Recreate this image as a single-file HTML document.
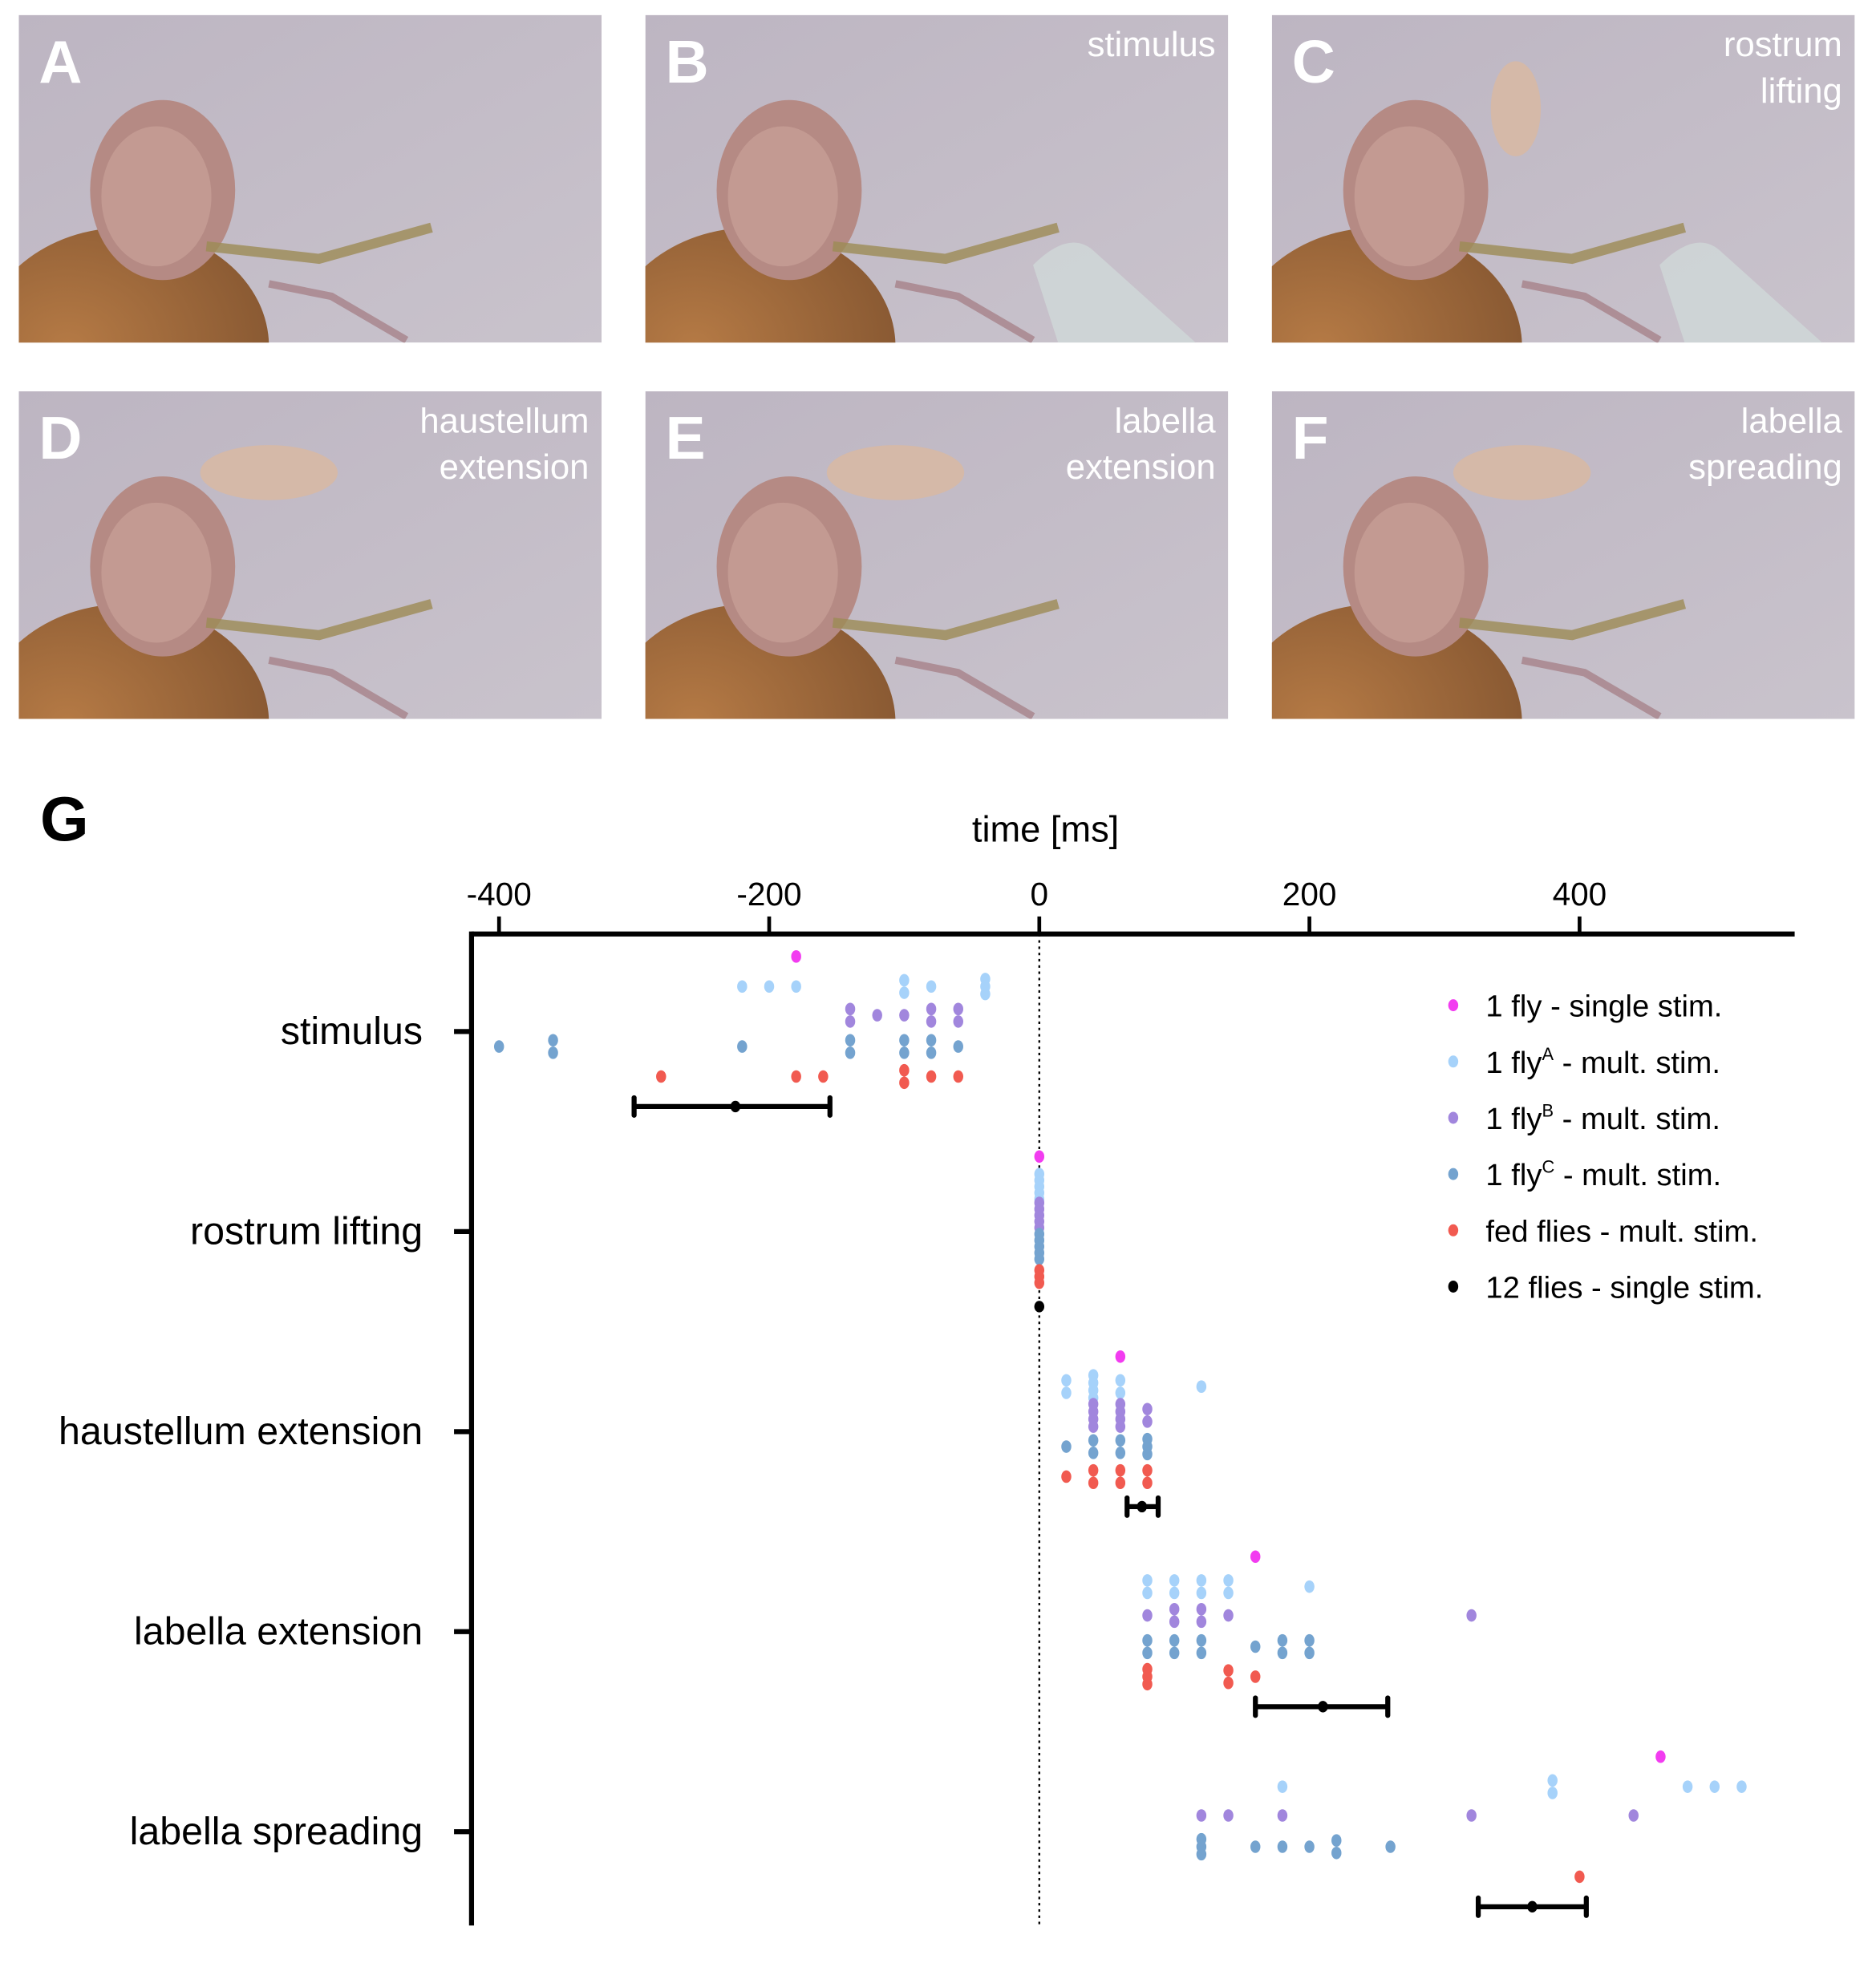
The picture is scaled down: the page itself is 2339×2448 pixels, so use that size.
<!DOCTYPE html>
<html><head><meta charset="utf-8"><style>
html,body{margin:0;padding:0;background:#fff}
svg{display:block}
text{font-family:"Liberation Sans",sans-serif}
</style></head><body>
<svg id="fig" width="2339" height="2448" viewBox="0 0 1500 1570" xmlns="http://www.w3.org/2000/svg">
<defs>
<linearGradient id="bg" x1="0" y1="0" x2="1" y2="1"><stop offset="0" stop-color="#bdb5c2"/><stop offset="1" stop-color="#c9c3cc"/></linearGradient>
<radialGradient id="body" cx="0.3" cy="0.5" r="0.7"><stop offset="0" stop-color="#b57a45"/><stop offset="1" stop-color="#8a5a33"/></radialGradient>
<clipPath id="c0"><rect x="0" y="0" width="466" height="262"/></clipPath>
</defs>
<g id="photos"></g>
<g id="chart"></g>
</svg>
<script>
// ---- chart data ----
const categories = ["stimulus","rostrum lifting","haustellum extension","labella extension","labella spreading"];
const xTicks = [-400,-200,0,200,400];
const seriesNames = ["1 fly - single stim.","1 flyA - mult. stim.","1 flyB - mult. stim.","1  flyC - mult. stim.","fed flies - mult. stim.","12 flies - single stim."];
const seriesColors = ["#f23cf0","#a6d2fa","#a186dd","#74a3cf","#f15a50","#000000"];
const magenta = [[-180],[0],[60],[160],[460]];
const flyA = [[-220,-200,-180,-100,-100,-80,-40,-40,-40],[0,0,0,0,0],[20,20,40,40,40,40,60,60,120],[80,80,100,100,120,120,140,140,200],[180,380,380,480,500,520]];
const flyB = [[-140,-140,-120,-100,-80,-80,-60,-60],[0,0,0,0,0],[40,40,40,40,60,60,60,60,80,80],[80,100,100,120,120,140,320],[120,140,180,320,440]];
const flyC = [[-400,-360,-360,-220,-140,-140,-100,-100,-80,-80,-60],[0,0,0,0,0],[20,40,40,60,60,80,80,80],[80,80,100,100,120,120,160,180,180,200,200],[120,120,120,160,180,200,220,220,260]];
const fed = [[-280,-180,-160,-100,-100,-80,-60],[0,0,0],[20,40,40,60,60,80,80],[80,80,80,140,140,160],[400]];
const meanVals = [-225,0,76,210,365];
const errLow = [-300,0,65,160,325];
const errHigh = [-155,0,88,258,405];

const NS="http://www.w3.org/2000/svg";
function mk(tag,attrs,parent){const e=document.createElementNS(NS,tag);for(const k in attrs)e.setAttribute(k,attrs[k]);parent.appendChild(e);return e;}

// ---- photos ----
const photos=document.getElementById('photos');
const panels=[["A","",""],["B","stimulus",""],["C","rostrum","lifting"],["D","haustellum","extension"],["E","labella","extension"],["F","labella","spreading"]];
const px=[15,516,1017], py=[12,313];
panels.forEach((p,i)=>{
  const g=mk('g',{transform:`translate(${px[i%3]},${py[Math.floor(i/3)]})`},photos);
  
  
  const inner=mk('g',{'clip-path':'url(#c0)'},g);
  mk('rect',{x:0,y:0,width:466,height:262,fill:'url(#bg)'},inner);
  mk('ellipse',{cx:85,cy:265,rx:115,ry:95,fill:'url(#body)'},inner);
  mk('ellipse',{cx:115,cy:140,rx:58,ry:72,fill:'#b58a84'},inner);
  mk('ellipse',{cx:110,cy:145,rx:44,ry:56,fill:'#c39a92'},inner);
  if(i==2) mk('ellipse',{cx:195,cy:75,rx:20,ry:38,fill:'#d8b8a2',opacity:0.85},inner);
  if(i>=3) mk('ellipse',{cx:200,cy:65,rx:55,ry:22,fill:'#d8b8a2',opacity:0.85},inner);
  mk('path',{d:'M150 185 L240 195 L330 170',stroke:'#9c8b55','stroke-width':8,fill:'none',opacity:0.8},inner);
  mk('path',{d:'M200 215 L250 225 L310 260',stroke:'#a68289','stroke-width':6,fill:'none',opacity:0.8},inner);
  if(i==1||i==2) mk('path',{d:'M310 200 Q340 170 360 190 L440 262 L330 262 Z',fill:'#cfd8d8',opacity:0.8},inner);
  const L=mk('text',{x:16,y:54,'font-size':48,'font-weight':'bold',fill:'#fff'},g);L.textContent=p[0];
  
  
  if(p[1]){const t=mk('text',{x:456,y:33,'font-size':28,fill:'#fff','text-anchor':'end'},g);t.textContent=p[1];
    
    }
  if(p[2]){const t=mk('text',{x:456,y:70,'font-size':28,fill:'#fff','text-anchor':'end'},g);t.textContent=p[2];
    
    }
});

// ---- chart ----
const C=document.getElementById('chart');
const X0=831, K=1.08;
const xs=v=>X0+K*v;
const rowY=i=>825+160*i;
const offs=[-60,-36,-13,12,36,60];
const axTop=747, axBottom=1540, axLeft=377, axRight=1435;

let t=mk('text',{x:32,y:672,'font-size':50,'font-weight':'bold'},C);t.textContent='G';


t=mk('text',{x:836,y:673,'font-size':29,'text-anchor':'middle'},C);t.textContent='time [ms]';



let l=mk('line',{x1:axLeft,y1:axTop,x2:axRight,y2:axTop,stroke:'#000','stroke-width':4},C);


l=mk('line',{x1:axLeft,y1:axTop-2,x2:axLeft,y2:axBottom,stroke:'#000','stroke-width':4},C);


l=mk('line',{x1:xs(0),y1:axTop,x2:xs(0),y2:axBottom,stroke:'#000','stroke-width':1.5,'stroke-dasharray':'2 3'},C);



xTicks.forEach(v=>{
  const tk=mk('line',{x1:xs(v),y1:axTop-14,x2:xs(v),y2:axTop,stroke:'#000','stroke-width':3},C);
  
  
  const tl=mk('text',{x:xs(v),y:724,'font-size':26,'text-anchor':'middle'},C);tl.textContent=String(v);
  
  
});
categories.forEach((c,i)=>{
  const tk=mk('line',{x1:363,y1:rowY(i),x2:axLeft,y2:rowY(i),stroke:'#000','stroke-width':4},C);
  
  
  const tl=mk('text',{x:338,y:rowY(i)+10,'font-size':31,'text-anchor':'end'},C);tl.textContent=c;
  
  
});

const allSeries=[magenta,flyA,flyB,flyC,fed];
allSeries.forEach((ser,si)=>{
  ser.forEach((vals,ci)=>{
    const counts={};vals.forEach(v=>counts[v]=(counts[v]||0)+1);
    const seen={};
    const zeroRow = vals.every(v=>v===0);
    vals.forEach(v=>{
      const n=counts[v]; const k=(seen[v]=(seen[v]||0)+1)-1;
      const sp = zeroRow?5:(n==2?10:6);
      const y=rowY(ci)+offs[si]+(k-(n-1)/2)*sp;
      const d=mk('ellipse',{cx:xs(v),cy:y,rx:4,ry:5,fill:seriesColors[si]},C);
      
      
    });
  });
});
meanVals.forEach((m,ci)=>{
  const y=rowY(ci)+offs[5];
  if(errHigh[ci]>errLow[ci]){
    const b=mk('line',{x1:xs(errLow[ci]),y1:y,x2:xs(errHigh[ci]),y2:y,stroke:'#000','stroke-width':4},C);
    
    
    [errLow[ci],errHigh[ci]].forEach(v=>{
      const c=mk('line',{x1:xs(v),y1:y-7,x2:xs(v),y2:y+7,stroke:'#000','stroke-width':4,'stroke-linecap':'round'},C);
      
      
    });
  }
  const d=mk('ellipse',{cx:xs(m),cy:y,rx:4,ry:4.6,fill:'#000'},C);
  
  
});

// legend
seriesNames.forEach((nm,i)=>{
  const y=804+45*i;
  const g=mk('g',{},C);
  
  
  mk('ellipse',{cx:1162,cy:y,rx:4,ry:4.8,fill:seriesColors[i]},g);
  const tx=mk('text',{x:1188,y:y+9,'font-size':24.5},g);
  const m=nm.match(/^(.*fly)([ABC])( - .*)$/);
  if(m){
    tx.appendChild(document.createTextNode(m[1]));
    const s=mk('tspan',{'font-size':14,dy:-10},tx);s.textContent=m[2];
    const r=mk('tspan',{dy:10,'font-size':24.5},tx);r.textContent=m[3];
  } else tx.textContent=nm;
});
</script>
</body></html>
